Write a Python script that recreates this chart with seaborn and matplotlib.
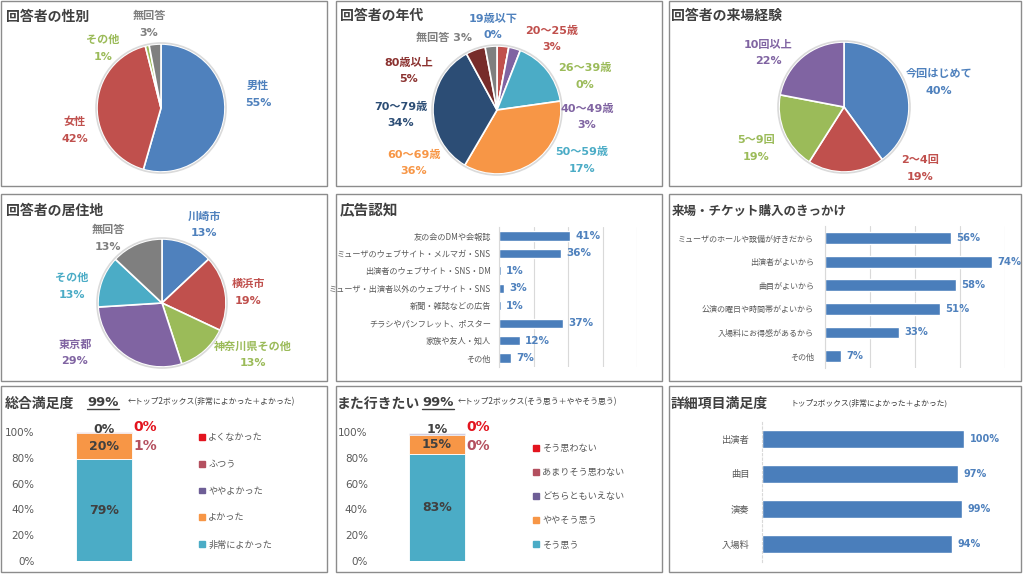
import numpy as np
import matplotlib
matplotlib.use('Agg')
import matplotlib.pyplot as plt
from matplotlib.patches import Rectangle, Patch, Circle
from matplotlib.lines import Line2D
import seaborn as sns

sns.set_style('white')
plt.rcParams['font.family'] = ['DejaVu Sans', 'Noto Sans CJK JP']
JP = ['Noto Sans CJK JP', 'DejaVu Sans']

# --- data ---
gender_labels = ['男性', '女性', 'その他', '無回答']
gender_pct = [55, 42, 1, 3]

age_labels = ['19歳以下', '20～25歳', '26～39歳', '40～49歳', '50～59歳',
              '60～69歳', '70～79歳', '80歳以上', '無回答']
age_pct = [0, 3, 0, 3, 17, 36, 34, 5, 3]

visit_labels = ['今回はじめて', '2～4回', '5～9回', '10回以上']
visit_pct = [40, 19, 19, 22]

home_labels = ['川崎市', '横浜市', '神奈川県その他', '東京都', 'その他', '無回答']
home_pct = [13, 19, 13, 29, 13, 13]

ad_labels = ['友の会のDMや会報誌', 'ミューザのウェブサイト・メルマガ・SNS',
             '出演者のウェブサイト・SNS・DM', 'ミューザ・出演者以外のウェブサイト・SNS',
             '新聞・雑誌などの広告', 'チラシやパンフレット、ポスター', '家族や友人・知人', 'その他']
ad_pct = [41, 36, 1, 3, 1, 37, 12, 7]

reason_labels = ['ミューザのホールや設備が好きだから', '出演者がよいから', '曲目がよいから',
                 '公演の曜日や時間帯がよいから', '入場料にお得感があるから', 'その他']
reason_pct = [56, 74, 58, 51, 33, 7]

overall_labels = ['非常によかった', 'よかった', 'ややよかった', 'ふつう', 'よくなかった']
overall_pct = [79, 20, 0, 1, 0]
overall_top2 = 99

revisit_labels = ['そう思う', 'ややそう思う', 'どちらともいえない', 'あまりそう思わない', 'そう思わない']
revisit_pct = [83, 15, 1, 0, 0]
revisit_top2 = 99

detail_labels = ['出演者', '曲目', '演奏', '入場料']
detail_pct = [100, 97, 99, 94]

# --- colours ---
BLUE, RED, GREEN, PURPLE = '#4F81BD', '#C0504D', '#9BBB59', '#8064A2'
AQUA, ORANGE, NAVY, DKRED, GRAY = '#4BACC6', '#F79646', '#2C4D75', '#772C2A', '#7F7F7F'
BAR = '#4A7EBB'
TXT = '#404040'
TICK = '#595959'
scale_colors = ['#4BACC6', '#F79646', '#6E5E96', '#B4505F', '#E3141E']

W, H = 1024, 574
fig = plt.figure(figsize=(W / 100, H / 100), dpi=100)


def px_axes(x0, y0, x1, y1):
    return fig.add_axes([x0 / W, 1 - y1 / H, (x1 - x0) / W, (y1 - y0) / H])


def fig_text(x, y, s, **kw):
    fig.text(x / W, 1 - y / H, s, **kw)


# panel frames
panels = [(1, 1, 327, 186), (336, 1, 662, 186), (669, 1, 1021, 186),
          (1, 194, 327, 381), (336, 194, 662, 381), (669, 194, 1021, 381),
          (1, 386, 327, 572), (336, 386, 662, 572), (669, 386, 1021, 572)]
for x0, y0, x1, y1 in panels:
    fig.add_artist(Rectangle((x0 / W, 1 - y1 / H), (x1 - x0) / W, (y1 - y0) / H,
                             transform=fig.transFigure, fill=False, ec='#8C8C8C', lw=1))

titles = [('回答者の性別', 6, 17, 10), ('回答者の年代', 340, 16, 10),
          ('回答者の来場経験', 671, 16, 10), ('回答者の居住地', 6, 211, 10),
          ('広告認知', 340, 210, 10.5), ('来場・チケット購入のきっかけ', 672, 211, 9),
          ('総合満足度', 5, 404, 10), ('また行きたい', 337, 404, 10),
          ('詳細項目満足度', 671, 404, 10)]
for s, x, y, fs in titles:
    fig_text(x, y, s, ha='left', va='center', fontsize=fs, fontweight='bold',
             color=TXT, family=JP)


# --- pies ---
def draw_pie(box, center, radius, values, colors, names, label_xy, label_colors, inline=()):
    x0, y0, x1, y1 = box
    ax = px_axes(*box)
    ax.pie(values, colors=colors, startangle=90, counterclock=False,
           center=(center[0], H - center[1]), radius=radius,
           wedgeprops=dict(edgecolor='white', linewidth=1.2))
    # faint outer ring, like the spreadsheet's soft pie edge
    ax.add_patch(Circle((center[0], H - center[1]), radius + 1, fill=False,
                        ec='#DADADA', lw=1.2))
    ax.set_xlim(x0, x1)
    ax.set_ylim(H - y1, H - y0)
    ax.set_aspect('auto')
    ax.axis('off')
    for i, (name, v, (lx, ly), c) in enumerate(zip(names, values, label_xy, label_colors)):
        kw = dict(ha='center', va='center', fontsize=8, fontweight='bold', color=c)
        if i in inline:
            ax.text(lx, H - ly, f'{name} {v}%', **kw)
        else:
            ax.text(lx, H - ly + 8.5, name, **kw)
            ax.text(lx, H - ly - 8.5, f'{v}%', **kw)


draw_pie(panels[0], (161, 108), 64, gender_pct, [BLUE, RED, GREEN, GRAY], gender_labels,
         [(258, 94), (75, 130), (103, 48), (149, 24)], [BLUE, RED, GREEN, GRAY])

draw_pie(panels[1], (497, 110), 64, age_pct,
         [BLUE, RED, GREEN, PURPLE, AQUA, ORANGE, NAVY, DKRED, GRAY], age_labels,
         [(493, 27), (552, 39), (585, 76), (587, 117), (582, 160), (414, 163),
          (401, 115), (409, 71), (444, 38)],
         [BLUE, RED, GREEN, PURPLE, AQUA, ORANGE, NAVY, '#8B3230', GRAY], inline=(8,))

draw_pie(panels[2], (844, 107), 65, visit_pct, [BLUE, RED, GREEN, PURPLE], visit_labels,
         [(939, 83), (920, 168), (756, 149), (768, 53)], [BLUE, RED, GREEN, PURPLE])

draw_pie(panels[3], (162, 303), 64, home_pct, [BLUE, RED, GREEN, PURPLE, AQUA, GRAY],
         home_labels,
         [(204, 225), (248, 292), (253, 355), (75, 353), (72, 286), (108, 238)],
         [BLUE, RED, GREEN, PURPLE, AQUA, GRAY])


# --- horizontal bars ---
def draw_hbar(box, values, labels, xmax, width, labelsize, valsize, pad, grid=True):
    ax = px_axes(*box)
    sns.barplot(x=values, y=labels, orient='h', color=BAR, saturation=1,
                width=width, ax=ax)
    ax.set_xlim(0, xmax)
    ax.set_ylim(len(values) - 0.5, -0.5)
    ax.set_xticks(np.arange(0, xmax + 1, 20))
    ax.set_xticklabels([])
    ax.set_xlabel('')
    ax.set_ylabel('')
    ax.set_axisbelow(True)
    if grid:
        ax.xaxis.grid(True, color='#D9D9D9', lw=0.8)
    for side in ['top', 'right', 'bottom']:
        ax.spines[side].set_visible(False)
    ax.spines['left'].set_color('#D9D9D9')
    ax.tick_params(axis='x', length=0)
    ax.tick_params(axis='y', length=0, pad=pad, labelsize=labelsize, labelcolor=TICK)
    for t in ax.get_yticklabels():
        t.set_fontfamily(JP)
    ax.bar_label(ax.containers[0], labels=[f'{v}%' for v in values], padding=4,
                 color=BLUE, fontweight='bold', fontsize=valsize)
    return ax


draw_hbar((499, 227.3, 637, 366.7), ad_pct, ad_labels, 80, 0.52, 5.9, 7.5, 6)
draw_hbar((825, 226.2, 1005, 367.8), reason_pct, reason_labels, 80, 0.5, 5.8, 7.2, 8)
ax9 = draw_hbar((762, 421.5, 964, 561.5), detail_pct, detail_labels, 100, 0.49, 6.7, 7, 9,
                grid=False)
ax9.spines['left'].set_linestyle((0, (2, 2)))


# --- stacked satisfaction bars ---
def draw_stack(box, values, names, legend_xy, spacing, top2, title_x, note_x, note):
    ax = px_axes(*box)
    bottoms = np.concatenate([[0], np.cumsum(values)[:-1]])
    for i, (v, b, c) in enumerate(zip(values, bottoms, scale_colors)):
        ax.bar(0, v, bottom=b, width=0.8, color=c, alpha=1 if i < 2 else 0.3,
               edgecolor='white', linewidth=0.6)
    ax.set_xlim(-0.9, 0.9)
    ax.set_ylim(0, 100)
    ax.set_yticks(range(0, 101, 20))
    ax.set_yticklabels([f'{t}%' for t in range(0, 101, 20)])
    ax.set_xticks([])
    ax.tick_params(axis='y', length=0, pad=4.5, labelsize=7.5, labelcolor=TICK)
    sns.despine(ax=ax, left=True, bottom=True)
    lab = dict(ha='center', va='center', fontweight='bold')
    for i in (0, 1):
        ax.text(0, bottoms[i] + values[i] / 2, f'{values[i]}%', fontsize=9, color=TXT, **lab)
    ax.text(0, 102, f'{values[2]}%', fontsize=9, color=TXT, clip_on=False, **lab)
    ax.text(0.59, 89.5, f'{values[3]}%', fontsize=10, color=scale_colors[3], **lab)
    ax.text(0.59, 103.5, f'{values[4]}%', fontsize=10, color=scale_colors[4],
            clip_on=False, **lab)
    handles = [Patch(color=c) for c in scale_colors][::-1]
    ax.legend(handles, names[::-1], loc='upper left',
              bbox_to_anchor=(legend_xy[0] / W, 1 - legend_xy[1] / H),
              bbox_transform=fig.transFigure, frameon=False,
              prop=dict(family=JP, size=6.6), labelcolor=TICK,
              handlelength=0.6, handleheight=0.6, handletextpad=0.4,
              labelspacing=spacing, borderpad=0, borderaxespad=0)
    # headline top-2 share, underlined
    fig_text(title_x, 402, f'{top2}%', ha='center', va='center', fontsize=9.5,
             fontweight='bold', color=TXT)
    fig.add_artist(Line2D([(title_x - 16) / W, (title_x + 16) / W], [1 - 409 / H] * 2,
                          transform=fig.transFigure, color=TXT, lw=1))
    fig_text(note_x, 402, note, ha='left', va='center', fontsize=5.7, color=TXT, family=JP)


draw_stack((41, 432, 167, 561), overall_pct, overall_labels, (199, 433), 1.95,
           overall_top2, 103, 128, '←トップ2ボックス(非常によかった＋よかった)')
draw_stack((374, 432, 500, 561), revisit_pct, revisit_labels, (533, 444), 1.65,
           revisit_top2, 438, 458, '←トップ2ボックス(そう思う＋ややそう思う)')

fig_text(790, 403, 'トップ2ボックス(非常によかった＋よかった)', ha='left', va='center',
         fontsize=5.6, color=TXT, family=JP)

plt.savefig('out.png', dpi=100)
